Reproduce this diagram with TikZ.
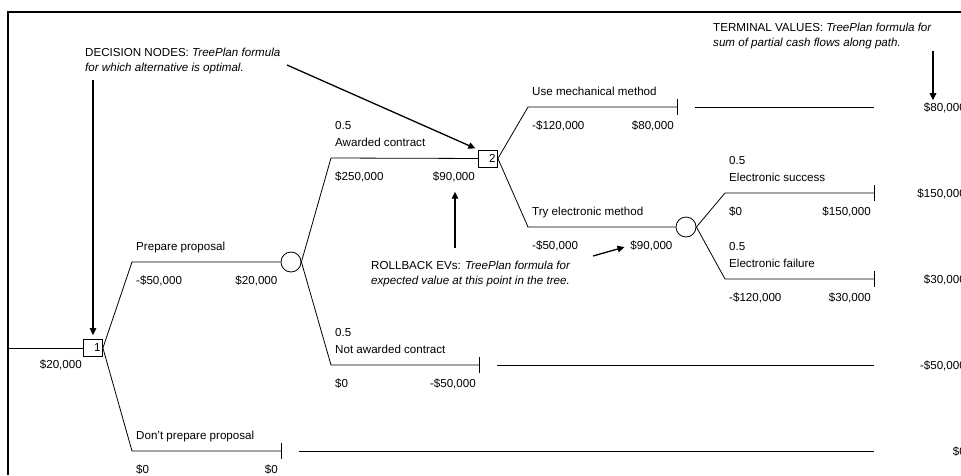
\documentclass[tikz,border=0pt]{standalone}
\usepackage{fontspec}
\setmainfont{Liberation Sans}
\usetikzlibrary{arrows.meta,calc}

\begin{document}
\begin{tikzpicture}[
  x=1pt, y=-1pt,
  every node/.style = {font=\fontsize{11.6}{15}\selectfont, inner sep=0pt},
  branch/.style = {line width=0.8pt},
  decnode/.style = {draw, line width=0.8pt, fill=white, minimum height=17pt,
    text width=15pt, inner xsep=2pt, align=right},
  chancenode/.style = {draw, line width=0.8pt, fill=white, circle, minimum size=20pt},
  lbl/.style = {anchor=base west, xshift=4pt, yshift=12pt},
  prob/.style = {anchor=base west, xshift=4pt, yshift=29pt},
  cash/.style = {anchor=base west, xshift=4pt, yshift=-22pt},
  ev/.style = {anchor=base east, xshift=-3pt, yshift=-22pt},
  termval/.style = {anchor=base east, xshift=92pt, yshift=-4pt},
  note/.style = {anchor=base west, align=left},
  arr/.style = {line width=1.3pt, -{Triangle[length=7pt,width=6.5pt]}}
  ]
  \useasboundingbox (0,0) rectangle (961,475);
  \draw[line width=2pt] (8,475) -- (8,12) -- (975,12);

  \coordinate (root) at (8,348);
  \node[decnode] (d1) at (93,348) {1};
  \node[anchor=base east] (ev0) at (82,368) {\$20,000};
  \draw[branch] (root) -- (d1);

  \coordinate (prep) at (132,262);
  \coordinate (dont) at (132,451);
  \node[chancenode] (c1) at (291,262) {};
  \coordinate (dontend) at (281,451);
  \coordinate (dontterm) at (874,451);
  \draw[branch] (d1.east) -- (prep) -- (c1);
  \draw[branch] (d1.east) -- (dont) -- (dontend);
  \draw[branch] ([yshift=8pt]dontend) -- ([yshift=-8pt]dontend);
  \draw[branch] ([xshift=18pt]dontend) -- (dontterm);
  \node[lbl] at (prep) {Prepare proposal};
  \node[cash] at (prep) {-\$50,000};
  \node[ev] (ev1) at (c1.west) {\$20,000};
  \node[lbl] at (dont) {Don't prepare proposal};
  \node[cash] at (dont) {\$0};
  \node[ev] at (dontend) {\$0};
  \node[termval] (tv5) at (dontterm) {\$0};

  \coordinate (award) at (331,158);
  \coordinate (notaw) at (331,365);
  \node[decnode] (d2) at (488,158.5) {2};
  \coordinate (notawend) at (479,365);
  \coordinate (notawterm) at (874,365);
  \draw[branch] (c1.east) -- (award) -- (d2);
  \draw[branch] (c1.east) -- (notaw) -- (notawend);
  \draw[branch] ([yshift=8pt]notawend) -- ([yshift=-8pt]notawend);
  \draw[branch] ([xshift=18pt]notawend) -- (notawterm);
  \node[prob] at (award) {0.5};
  \node[lbl] at (award) {Awarded contract};
  \node[cash] at (award) {\$250,000};
  \node[ev] (ev2) at (d2.west |- award) {\$90,000};
  \node[prob] at (notaw) {0.5};
  \node[lbl] at (notaw) {Not awarded contract};
  \node[cash] at (notaw) {\$0};
  \node[ev] at (notawend) {-\$50,000};
  \node[termval] (tv4) at (notawterm) {-\$50,000};

  \coordinate (mech) at (528,107);
  \coordinate (elec) at (528,227);
  \node[chancenode] (c2) at (686,227) {};
  \coordinate (mechend) at (677,107);
  \coordinate (mechterm) at (874,107);
  \draw[branch] (d2.east) -- (mech) -- (mechend);
  \draw[branch] (d2.east) -- (elec) -- (c2);
  \draw[branch] ([yshift=8pt]mechend) -- ([yshift=-8pt]mechend);
  \draw[branch] ([xshift=18pt]mechend) -- (mechterm);
  \node[lbl] at (mech) {Use mechanical method};
  \node[cash] at (mech) {-\$120,000};
  \node[ev] at (mechend) {\$80,000};
  \node[termval] (tv1) at (mechterm) {\$80,000};
  \node[lbl] at (elec) {Try electronic method};
  \node[cash] at (elec) {-\$50,000};
  \node[ev] (ev3) at (c2.west) {\$90,000};

  \coordinate (succ) at (725,193);
  \coordinate (fail) at (725,279);
  \coordinate (succend) at (874,193);
  \coordinate (failend) at (874,279);
  \draw[branch] (c2.east) -- (succ) -- (succend);
  \draw[branch] (c2.east) -- (fail) -- (failend);
  \draw[branch] ([yshift=8pt]succend) -- ([yshift=-8pt]succend);
  \draw[branch] ([yshift=8pt]failend) -- ([yshift=-8pt]failend);
  \node[prob] at (succ) {0.5};
  \node[lbl] at (succ) {Electronic success};
  \node[cash] at (succ) {\$0};
  \node[ev] at (succend) {\$150,000};
  \node[termval] (tv2) at (succend) {\$150,000};
  \node[prob] at (fail) {0.5};
  \node[lbl] at (fail) {Electronic failure};
  \node[cash] at (fail) {-\$120,000};
  \node[ev] at (failend) {\$30,000};
  \node[termval] (tv3) at (failend) {\$30,000};

  \node[note] (decnote) at (85,71)
    {DECISION NODES: \textit{TreePlan formula}\\\textit{for which alternative is optimal.}};
  \node[note] (termnote) at (713,46)
    {TERMINAL VALUES: \textit{TreePlan formula for}\\\textit{sum of partial cash flows along path.}};
  \node[note] (rbnote) at (371,284)
    {ROLLBACK EVs: \textit{TreePlan formula for}\\\textit{expected value at this point in the tree.}};

  \coordinate (dectail1) at (93,80);
  \coordinate (dectail2) at (287,65);
  \coordinate (termtail) at (933,51);
  \coordinate (rbtail1) at (455,248);
  \coordinate (rbtail2) at (593,256);
  \draw[arr, shorten >=4pt] (dectail1) -- (d1.north);
  \draw[arr, shorten >=3pt] (dectail2) -- (d2.north west);
  \draw[arr, shorten >=2pt] (termtail) -- (termtail |- tv1.north);
  \draw[arr, shorten >=10pt] (rbtail1) -- (rbtail1 |- ev2.south);
  \draw[arr, shorten >=6pt] (rbtail2) -- (ev3.west);
\end{tikzpicture}
\end{document}
